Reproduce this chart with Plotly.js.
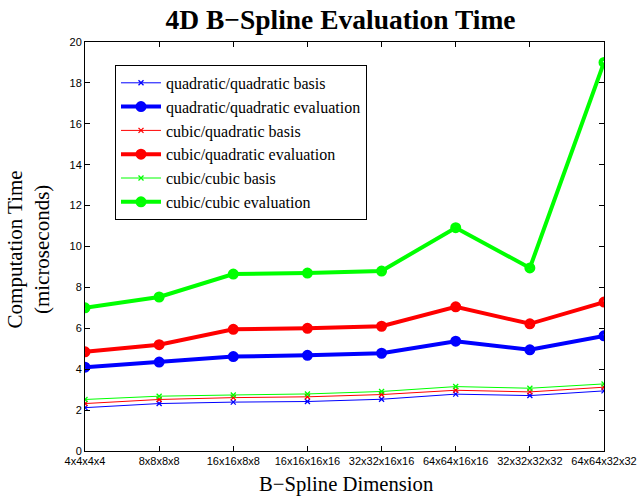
<!DOCTYPE html>
<html>
<head>
<meta charset="utf-8">
<script src="https://cdn.plot.ly/plotly-3.0.1.min.js"></script>
<style>html,body{margin:0;padding:0;background:#fff;}#chart{width:637px;height:498px;}</style>
</head>
<body>
<div id="chart"></div>
<script>
const categories = ["4x4x4x4","8x8x8x8","16x16x8x8","16x16x16x16","32x32x16x16","64x64x16x16","32x32x32x32","64x64x32x32"];
const quadQuadBasis = [2.12, 2.32, 2.39, 2.42, 2.53, 2.78, 2.71, 2.94];
const quadQuadEval  = [4.10, 4.35, 4.62, 4.68, 4.78, 5.37, 4.95, 5.63];
const cubQuadBasis  = [2.32, 2.52, 2.61, 2.65, 2.76, 2.97, 2.89, 3.12];
const cubQuadEval   = [4.85, 5.20, 5.95, 6.00, 6.10, 7.05, 6.22, 7.28];
const cubCubBasis   = [2.52, 2.68, 2.74, 2.79, 2.91, 3.15, 3.07, 3.28];
const cubCubEval    = [7.00, 7.53, 8.65, 8.70, 8.80, 10.92, 8.95, 19.00];

const xs = categories.map((c,i)=>i);
function basis(name, y, color){
  return {x: xs, y: y, name: name, type:'scatter', mode:'lines+markers',
    line:{color:color, width:1}, marker:{symbol:'x-thin', size:5, color:color, line:{color:color, width:1.3}}};
}
function evalT(name, y, color){
  return {x: xs, y: y, name: name, type:'scatter', mode:'lines+markers',
    line:{color:color, width:4}, marker:{symbol:'circle-open', size:7, color:color, line:{color:color, width:4}}};
}
const data = [
  basis('quadratic/quadratic basis', quadQuadBasis, '#0000ff'),
  evalT('quadratic/quadratic evaluation', quadQuadEval, '#0000ff'),
  basis('cubic/quadratic basis', cubQuadBasis, '#ff0000'),
  evalT('cubic/quadratic evaluation', cubQuadEval, '#ff0000'),
  basis('cubic/cubic basis', cubCubBasis, '#00ff00'),
  evalT('cubic/cubic evaluation', cubCubEval, '#00ff00')
];
const serif = 'Liberation Serif, Times New Roman, serif';
const sans = 'Liberation Sans, Arial, sans-serif';
const layout = {
  width: 637, height: 498,
  margin: {l:85, r:33, t:42, b:47},
  paper_bgcolor:'#fff', plot_bgcolor:'#fff',
  showlegend: true,
  title: {text:'<b>4D B\u2212Spline Evaluation Time</b>', font:{family:serif, size:27.5, color:'#000'},
    x:0.5345, xanchor:'center', yref:'container', y:0.962, yanchor:'middle'},
  xaxis: {range:[0,7], tickmode:'array', tickvals: xs, ticktext: categories,
    showgrid:false, zeroline:false, showline:true, linecolor:'#000', linewidth:1, mirror:'allticks',
    ticks:'inside', ticklen:5, tickcolor:'#000', tickfont:{family:sans, size:11, color:'#000'}},
  yaxis: {range:[0,20], tickvals:[0,2,4,6,8,10,12,14,16,18,20],
    showgrid:false, zeroline:false, showline:true, linecolor:'#000', linewidth:1, mirror:'allticks',
    ticks:'inside', ticklen:5, tickcolor:'#000', tickfont:{family:sans, size:11, color:'#000'}},
  annotations: [
    {text:'B\u2212Spline Dimension', xref:'paper', yref:'paper', x:0.5048, y:-0.083, xanchor:'center', yanchor:'middle',
      showarrow:false, font:{family:serif, size:20.7, color:'#000'}},
    {text:'Computation Time<br>(microseconds)', xref:'paper', yref:'paper', x:-0.1089, y:0.494, xanchor:'center', yanchor:'middle',
      textangle:-90, showarrow:false, font:{family:serif, size:21, color:'#000'}}
  ],
  legend: {x:0.0578, y:0.944, xanchor:'left', yanchor:'top', bgcolor:'#fff', bordercolor:'#000', borderwidth:1,
    font:{family:serif, size:16, color:'#000'}, tracegroupgap:0, itemwidth:40}
};
Plotly.newPlot('chart', data, layout, {displayModeBar:false, staticPlot:true});
</script>
</body>
</html>
